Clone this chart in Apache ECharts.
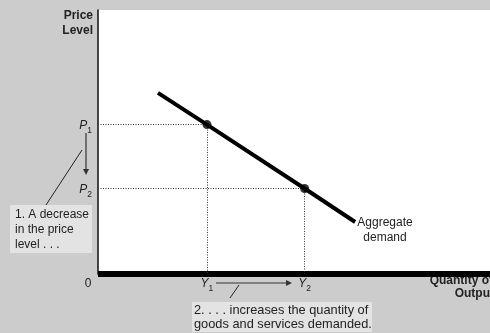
<!DOCTYPE html>
<html>
<head>
<meta charset="utf-8">
<script src="https://cdn.jsdelivr.net/npm/echarts@6/dist/echarts.min.js"></script>
<style>
  html, body { margin: 0; padding: 0; background: #cccccc; }
  #chart { width: 490px; height: 333px; }
</style>
</head>
<body>
<div id="chart"></div>
<script>
// Aggregate demand curve (quantity of output vs price level, 0-100 scale)
const demandQuantity = [15.3, 27.8, 52.7, 65.6];
const demandPrice = [68.6, 56.6, 32.4, 19.7];

// The two marked points on the curve
const priceLevels = [56.6, 32.4];      // P1, P2
const outputLevels = [27.8, 52.7];     // Y1, Y2
const levelSubscripts = ['1', '2'];

const FONT = '"Liberation Sans", Arial, sans-serif';

const chart = echarts.init(document.getElementById('chart'), null, { renderer: 'canvas' });

const demandData = demandQuantity.map((q, i) => [q, demandPrice[i]]);
const pointData = outputLevels.map((q, i) => [q, priceLevels[i]]);

function subLabel(letter, values) {
  return function (v) {
    let idx = values.findIndex(x => Math.abs(x - v) < 1e-6);
    if (idx < 0) return '';
    return '{i|' + letter + '}{s|' + levelSubscripts[idx] + '}';
  };
}

// italic letter with a lowered small index
const richSub = {
  i: { fontStyle: 'italic', fontSize: 12, fontFamily: FONT, color: '#222', lineHeight: 18, verticalAlign: 'middle' },
  s: { fontSize: 8.5, fontFamily: FONT, color: '#222', lineHeight: 8, verticalAlign: 'bottom' }
};

// dotted guides from each point to both axes
const guides = [];
pointData.forEach(([q, p]) => {
  guides.push([{ coord: [0, p] }, { coord: [q, p] }]);
  guides.push([{ coord: [q, p] }, { coord: [q, 0] }]);
});

const textStyle = { fontFamily: FONT, fontSize: 12, fill: '#222' };
const noteStyle = { fontFamily: FONT, fontSize: 12.8, fill: '#222' };

chart.setOption({
  animation: false,
  backgroundColor: '#cccccc',
  grid: {
    left: 98, right: 0, top: 10, bottom: 59,
    show: true, backgroundColor: '#ffffff', borderWidth: 0
  },
  xAxis: {
    type: 'value', min: 0, max: 100,
    splitLine: { show: false },
    axisTick: { show: false },
    axisLine: { show: true, lineStyle: { color: '#000', width: 6, cap: 'butt' } },
    axisLabel: {
      customValues: outputLevels,
      formatter: subLabel('Y', outputLevels),
      margin: 1,
      rich: richSub
    }
  },
  yAxis: {
    type: 'value', min: 0, max: 100,
    splitLine: { show: false },
    axisTick: { show: false },
    axisLine: { show: true, lineStyle: { color: '#111', width: 1.5 } },
    axisLabel: {
      customValues: priceLevels,
      formatter: subLabel('P', priceLevels),
      margin: 6,
      padding: [3, 0, 0, 0],
      rich: richSub
    }
  },
  series: [
    {
      type: 'line',
      data: demandData,
      showSymbol: false,
      lineStyle: { color: '#000', width: 4 },
      z: 3,
      markLine: {
        silent: true,
        symbol: 'none',
        label: { show: false },
        lineStyle: { color: '#333', width: 1, type: [1, 1.5] },
        data: guides,
        z: 2
      }
    },
    {
      type: 'scatter',
      data: pointData,
      symbol: 'circle',
      symbolSize: 9,
      itemStyle: { color: '#000' },
      z: 4
    }
  ],
  graphic: [
    // vertical-axis title
    { type: 'text', x: 93, y: 16, style: Object.assign({}, textStyle, { text: 'Price', fontWeight: 'bold', align: 'right', verticalAlign: 'middle' }) },
    { type: 'text', x: 93, y: 31, style: Object.assign({}, textStyle, { text: 'Level', fontWeight: 'bold', align: 'right', verticalAlign: 'middle' }) },
    // horizontal-axis title
    { type: 'text', x: 493, y: 281, style: Object.assign({}, textStyle, { text: 'Quantity of', fontWeight: 'bold', align: 'right', verticalAlign: 'middle' }) },
    { type: 'text', x: 494, y: 294, style: Object.assign({}, textStyle, { text: 'Output', fontWeight: 'bold', align: 'right', verticalAlign: 'middle' }) },
    // origin
    { type: 'text', x: 88, y: 284, style: Object.assign({}, textStyle, { text: '0', align: 'center', verticalAlign: 'middle' }) },
    // curve name
    { type: 'text', x: 385, y: 223, style: Object.assign({}, textStyle, { text: 'Aggregate', align: 'center', verticalAlign: 'middle' }) },
    { type: 'text', x: 385, y: 238, style: Object.assign({}, textStyle, { text: 'demand', align: 'center', verticalAlign: 'middle' }) },
    // price change arrow
    { type: 'line', shape: { x1: 86, y1: 133, x2: 86, y2: 170 }, style: { stroke: '#333', lineWidth: 1.2 } },
    { type: 'polygon', shape: { points: [[83, 169], [89, 169], [86, 175]] }, style: { fill: '#333' } },
    // quantity change arrow
    { type: 'line', shape: { x1: 216, y1: 283, x2: 287, y2: 283 }, style: { stroke: '#333', lineWidth: 1.2 } },
    { type: 'polygon', shape: { points: [[286, 280], [286, 286], [292, 283]] }, style: { fill: '#333' } },
    // note 1
    { type: 'line', shape: { x1: 46, y1: 205, x2: 82, y2: 150 }, style: { stroke: '#222', lineWidth: 1 } },
    { type: 'rect', shape: { x: 10, y: 205, width: 82, height: 48 }, style: { fill: '#e3e3e3' } },
    { type: 'text', x: 15, y: 215, style: Object.assign({}, textStyle, { text: '1. A decrease', verticalAlign: 'middle' }) },
    { type: 'text', x: 15, y: 230, style: Object.assign({}, textStyle, { text: 'in the price', verticalAlign: 'middle' }) },
    { type: 'text', x: 15, y: 245, style: Object.assign({}, textStyle, { text: 'level . . .', verticalAlign: 'middle' }) },
    // note 2
    { type: 'line', shape: { x1: 230, y1: 298, x2: 239, y2: 285 }, style: { stroke: '#222', lineWidth: 1 } },
    { type: 'rect', shape: { x: 192, y: 302, width: 180, height: 30 }, style: { fill: '#e3e3e3' } },
    { type: 'text', x: 194, y: 310, style: Object.assign({}, noteStyle, { text: '2. . . . increases the quantity of', verticalAlign: 'middle' }) },
    { type: 'text', x: 194, y: 324, style: Object.assign({}, noteStyle, { text: 'goods and services demanded.', verticalAlign: 'middle' }) }
  ]
});
</script>
</body>
</html>
